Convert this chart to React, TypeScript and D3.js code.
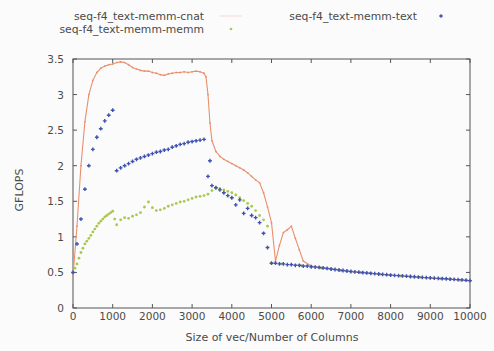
import React from "react";
import * as d3 from "d3";

// Series: seq-f4_text-memm-cnat (line with points)
const cnatX = [0, 100, 200, 300, 400, 500, 600, 700, 800, 900, 1000, 1100, 1200, 1300, 1400, 1500, 1600, 1700, 1800, 1900, 2000, 2100, 2200, 2300, 2400, 2500, 2600, 2700, 2800, 2900, 3000, 3100, 3200, 3300, 3350, 3400, 3450, 3500, 3600, 3700, 3800, 3900, 4000, 4100, 4200, 4300, 4400, 4500, 4600, 4700, 4800, 4900, 5000, 5100, 5200, 5300, 5400, 5500, 5600, 5700, 5800, 6000, 6500, 7000, 7500, 8000, 8500, 9000, 9500, 10000];
const cnatY = [0.45, 1.15, 2.0, 2.62, 3.0, 3.2, 3.31, 3.37, 3.4, 3.42, 3.43, 3.45, 3.46, 3.45, 3.42, 3.38, 3.36, 3.34, 3.33, 3.33, 3.31, 3.3, 3.28, 3.27, 3.29, 3.3, 3.31, 3.31, 3.32, 3.31, 3.32, 3.33, 3.32, 3.3, 3.25, 3.0, 2.6, 2.35, 2.2, 2.13, 2.09, 2.06, 2.03, 2.0, 1.97, 1.94, 1.9, 1.85, 1.8, 1.76, 1.62, 1.42, 1.2, 0.66, 0.88, 1.06, 1.1, 1.15, 0.98, 0.82, 0.66, 0.59, 0.55, 0.51, 0.485, 0.46, 0.44, 0.42, 0.4, 0.38];

// Series: seq-f4_text-memm-text (points)
const textX = [0, 100, 200, 300, 400, 500, 600, 700, 800, 900, 1000, 1100, 1200, 1300, 1400, 1500, 1600, 1700, 1800, 1900, 2000, 2100, 2200, 2300, 2400, 2500, 2600, 2700, 2800, 2900, 3000, 3100, 3200, 3300, 3400, 3450, 3500, 3600, 3700, 3800, 3900, 4000, 4100, 4200, 4300, 4400, 4500, 4600, 4700, 4800, 4900, 5000, 5100, 5200, 5300, 5400, 5500, 5600, 5700, 5800, 5900, 6000, 6100, 6200, 6300, 6400, 6500, 6600, 6700, 6800, 6900, 7000, 7100, 7200, 7300, 7400, 7500, 7600, 7700, 7800, 7900, 8000, 8100, 8200, 8300, 8400, 8500, 8600, 8700, 8800, 8900, 9000, 9100, 9200, 9300, 9400, 9500, 9600, 9700, 9800, 9900, 10000];
const textY = [0.5, 0.9, 1.25, 1.67, 2.0, 2.23, 2.4, 2.52, 2.63, 2.71, 2.78, 1.93, 1.97, 2.0, 2.03, 2.06, 2.09, 2.11, 2.13, 2.15, 2.17, 2.19, 2.2, 2.22, 2.23, 2.26, 2.28, 2.3, 2.31, 2.33, 2.34, 2.35, 2.36, 2.37, 1.85, 2.07, 1.72, 1.69, 1.66, 1.62, 1.58, 1.55, 1.45, 1.52, 1.33, 1.4, 1.3, 1.27, 1.2, 1.05, 0.85, 0.63, 0.63, 0.62, 0.62, 0.61, 0.61, 0.6, 0.6, 0.59, 0.59, 0.58, 0.575, 0.57, 0.563, 0.556, 0.548, 0.541, 0.534, 0.527, 0.52, 0.513, 0.508, 0.503, 0.498, 0.493, 0.488, 0.483, 0.478, 0.473, 0.468, 0.463, 0.459, 0.455, 0.451, 0.447, 0.443, 0.439, 0.435, 0.431, 0.427, 0.423, 0.42, 0.417, 0.414, 0.411, 0.407, 0.403, 0.399, 0.395, 0.391, 0.385];

// Series: seq-f4_text-memm-memm (points)
const memmX = [0, 50, 100, 150, 200, 250, 300, 350, 400, 450, 500, 550, 600, 650, 700, 750, 800, 850, 900, 950, 1000, 1050, 1100, 1200, 1300, 1400, 1500, 1600, 1700, 1800, 1900, 2000, 2100, 2200, 2300, 2400, 2500, 2600, 2700, 2800, 2900, 3000, 3100, 3200, 3300, 3400, 3500, 3600, 3700, 3800, 3900, 4000, 4100, 4200, 4300, 4400, 4500, 4600, 4700, 4800, 4900, 5000, 5250, 5500, 5750, 6000, 6250, 6500, 6750, 7000, 7250, 7500, 7750, 8000, 8250, 8500, 8750, 9000, 9250, 9500, 9750, 10000];
const memmY = [0.5, 0.56, 0.62, 0.7, 0.78, 0.84, 0.9, 0.94, 0.98, 1.02, 1.07, 1.11, 1.15, 1.19, 1.22, 1.25, 1.28, 1.3, 1.32, 1.34, 1.36, 1.25, 1.17, 1.24, 1.27, 1.26, 1.29, 1.31, 1.34, 1.42, 1.49, 1.41, 1.37, 1.38, 1.4, 1.43, 1.45, 1.47, 1.49, 1.5, 1.52, 1.54, 1.56, 1.57, 1.58, 1.6, 1.65, 1.69, 1.68, 1.66, 1.64, 1.62, 1.59, 1.55, 1.51, 1.47, 1.43, 1.37, 1.3, 1.24, 1.15, 0.63, 0.62, 0.61, 0.595, 0.58, 0.562, 0.545, 0.527, 0.51, 0.497, 0.485, 0.472, 0.46, 0.45, 0.44, 0.43, 0.42, 0.41, 0.4, 0.39, 0.38];

const xTicks = [0, 1000, 2000, 3000, 4000, 5000, 6000, 7000, 8000, 9000, 10000];
const yTicks = [0, 0.5, 1, 1.5, 2, 2.5, 3, 3.5];

const W = 494;
const H = 351;
const M = { left: 73, right: 470, top: 59, bottom: 308 };
const FONT = "'DejaVu Sans', Verdana, sans-serif";
const C_CNAT = "#e8906e";
const C_TEXT = "#3f52b0";
const C_MEMM = "#a9c94c";
const INK = "#4a4a4a";

export default function App() {
  const x = d3.scaleLinear().domain([0, 10000]).range([M.left, M.right]);
  const y = d3.scaleLinear().domain([0, 3.5]).range([M.bottom, M.top]);

  const cnat = cnatX.map((v, i) => [v, cnatY[i]] as [number, number]);
  const text = textX.map((v, i) => [v, textY[i]] as [number, number]);
  const memm = memmX.map((v, i) => [v, memmY[i]] as [number, number]);

  const line = d3
    .line<[number, number]>()
    .x((d) => x(d[0]))
    .y((d) => y(d[1]));

  const plus = (cx: number, cy: number, s: number, color: string, key: string) => (
    <path
      key={key}
      d={`M${cx - s},${cy}H${cx + s}M${cx},${cy - s}V${cy + s}`}
      stroke={color}
      strokeWidth={1.4}
      fill="none"
    />
  );

  return (
    <svg
      width={W}
      height={H}
      style={{ position: "absolute", left: 0, top: 0, background: "#fbfbfb" }}
      fontFamily={FONT}
    >
      {/* legend */}
      <g fontSize={10.8} fill={INK} textAnchor="end">
        <text x={204} y={20}>seq-f4_text-memm-cnat</text>
        <text x={204} y={33}>seq-f4_text-memm-memm</text>
        <text x={417} y={20}>seq-f4_text-memm-text</text>
      </g>
      <line x1={220} x2={242} y1={16} y2={16} stroke={C_CNAT} strokeOpacity={0.3} strokeWidth={1} />
      <circle cx={231} cy={29} r={1.3} fill={C_MEMM} />
      {plus(441, 16, 1.8, C_TEXT, "leg-text")}

      {/* frame */}
      <rect
        x={M.left}
        y={M.top}
        width={M.right - M.left}
        height={M.bottom - M.top}
        fill="none"
        stroke="#555"
        strokeWidth={1}
      />

      {/* ticks, mirrored on all sides */}
      <g stroke="#555" strokeWidth={1}>
        {xTicks.map((t) => (
          <g key={"xt" + t}>
            <line x1={x(t)} x2={x(t)} y1={M.bottom} y2={M.bottom - 4} />
            <line x1={x(t)} x2={x(t)} y1={M.top} y2={M.top + 4} />
          </g>
        ))}
        {yTicks.map((t) => (
          <g key={"yt" + t}>
            <line x1={M.left} x2={M.left + 4} y1={y(t)} y2={y(t)} />
            <line x1={M.right} x2={M.right - 4} y1={y(t)} y2={y(t)} />
          </g>
        ))}
      </g>

      <g fontSize={10.5} fill={INK}>
        {xTicks.map((t) => (
          <text key={"xl" + t} x={x(t)} y={M.bottom + 11.5} textAnchor="middle">
            {t}
          </text>
        ))}
        {yTicks.map((t) => (
          <text key={"yl" + t} x={M.left - 9} y={y(t) + 4} textAnchor="end">
            {t}
          </text>
        ))}
      </g>
      <g fontSize={11} fill={INK}>
        <text x={272} y={341} textAnchor="middle">
          Size of vec/Number of Columns
        </text>
        <text transform={`translate(23,190) rotate(-90)`} textAnchor="middle">
          GFLOPS
        </text>
      </g>

      {/* data */}
      <path d={line(cnat) ?? ""} fill="none" stroke={C_CNAT} strokeWidth={1.1} />
      {cnat.map((d, i) => (
        <circle key={"c" + i} cx={x(d[0])} cy={y(d[1])} r={0.9} fill={C_CNAT} />
      ))}
      {memm.map((d, i) => (
        <circle key={"m" + i} cx={x(d[0])} cy={y(d[1])} r={1.4} fill={C_MEMM} />
      ))}
      {text.map((d, i) => plus(x(d[0]), y(d[1]), 1.9, C_TEXT, "t" + i))}
    </svg>
  );
}
